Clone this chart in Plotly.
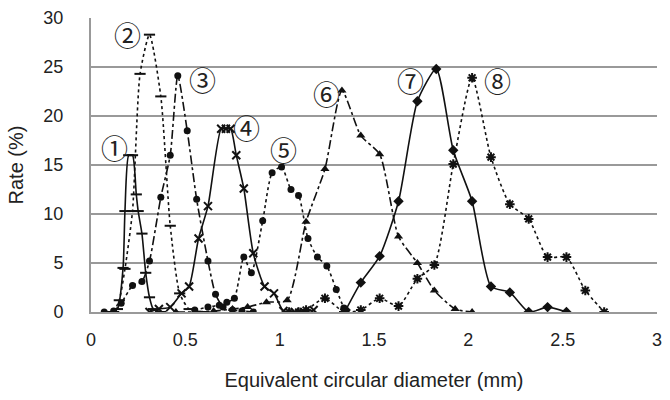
import plotly.graph_objects as go

# Series data (x: equivalent circular diameter in mm, y: rate in %)
s1_x = [0.10, 0.14, 0.17, 0.18, 0.20, 0.22, 0.24, 0.25, 0.27, 0.29, 0.31, 0.33, 0.37]
s1_y = [0, 0.3, 4.5, 10.3, 16.0, 16.0, 12.0, 10.3, 8.0, 4.0, 1.5, 0.3, 0]

s2_x = [0.12, 0.15, 0.18, 0.22, 0.26, 0.31, 0.37, 0.42, 0.47, 0.52, 0.60]
s2_y = [0, 1.2, 4.4, 10.3, 24.3, 28.3, 22.0, 8.8, 1.9, 0.3, 0]

s3_x = [0.07, 0.12, 0.16, 0.22, 0.27, 0.31, 0.37, 0.42, 0.46, 0.51, 0.56, 0.62, 0.66, 0.70, 0.75, 0.80, 0.86]
s3_y = [0, 0.1, 0.9, 2.7, 3.1, 5.2, 11.7, 16.0, 24.1, 18.5, 11.5, 5.2, 1.8, 0.5, 0.2, 0.1, 0]

s4_x = [0.31, 0.36, 0.42, 0.48, 0.52, 0.57, 0.62, 0.69, 0.715, 0.74, 0.77, 0.81, 0.86, 0.92, 0.97, 1.02, 1.08, 1.13, 1.18]
s4_y = [0, 0.3, 0.5, 1.9, 2.6, 7.5, 10.8, 18.7, 18.7, 18.7, 16.0, 12.6, 6.0, 2.6, 1.9, 0.1, 0, 0, 0.2]

s5_x = [0.55, 0.62, 0.68, 0.72, 0.76, 0.81, 0.85, 0.91, 0.96, 1.01, 1.06, 1.10, 1.15, 1.20, 1.25, 1.30, 1.34]
s5_y = [0.2, 0.5, 0.7, 1.0, 1.4, 5.6, 4.0, 9.3, 14.2, 14.8, 12.5, 11.9, 7.5, 5.6, 4.7, 2.3, 0.4]

s6_x = [0.45, 0.55, 0.65, 0.75, 0.83, 0.93, 1.04, 1.14, 1.24, 1.33, 1.43, 1.53, 1.63, 1.73, 1.82, 1.93, 2.02]
s6_y = [0, 0, 0.1, 0.3, 0.5, 1.0, 1.2, 9.2, 14.6, 22.6, 18.0, 16.1, 7.7, 5.0, 2.2, 0.3, 0]

s7_x = [1.35, 1.43, 1.53, 1.63, 1.73, 1.83, 1.92, 2.02, 2.12, 2.22, 2.32, 2.42, 2.52]
s7_y = [0.2, 3.0, 5.7, 11.3, 21.5, 24.8, 16.5, 11.3, 2.6, 2.0, 0, 0.5, 0]

s8_x = [1.05, 1.10, 1.14, 1.24, 1.34, 1.43, 1.53, 1.63, 1.73, 1.82, 1.92, 2.02, 2.12, 2.22, 2.32, 2.42, 2.52, 2.62, 2.72]
s8_y = [0, 0, 0.2, 1.4, 0, 0.2, 1.4, 0.6, 3.4, 4.8, 15.1, 23.9, 15.8, 11.0, 9.5, 5.6, 5.6, 2.2, 0]

labels = ["①", "②", "③", "④", "⑤", "⑥", "⑦", "⑧"]
label_x = [0.126, 0.196, 0.59, 0.826, 1.018, 1.246, 1.692, 2.156]
label_y = [16.8, 28.3, 23.7, 18.8, 16.6, 22.3, 23.6, 23.6]

x_title = "Equivalent circular diameter (mm)"
y_title = "Rate (%)"

series = [
    (s1_x, s1_y, "solid", "line-ew", 8),
    (s2_x, s2_y, "dot", "line-ew", 8),
    (s3_x, s3_y, "dashdot", "circle", 7),
    (s4_x, s4_y, "solid", "x-thin-open", 8),
    (s5_x, s5_y, "dot", "circle", 7),
    (s6_x, s6_y, "dashdot", "triangle-up", 8),
    (s7_x, s7_y, "solid", "diamond", 8),
    (s8_x, s8_y, "dot", "asterisk-open", 8),
]

fig = go.Figure()
for i, (xs, ys, dash, sym, sz) in enumerate(series):
    fig.add_trace(go.Scatter(
        x=xs, y=ys, mode="lines+markers", name=labels[i],
        line=dict(color="#111111", width=1.6, dash=dash, shape="spline", smoothing=0.6),
        marker=dict(symbol=sym, size=sz, color="#111111",
                    line=dict(color="#111111", width=2 if "line" in sym or "open" in sym else 0)),
        showlegend=False,
    ))

for t, lx, ly in zip(labels, label_x, label_y):
    fig.add_annotation(x=lx, y=ly, text=t, showarrow=False,
                       font=dict(size=27, color="#222222", family="Noto Sans CJK JP"))

fig.update_layout(
    width=670, height=400,
    margin=dict(l=91, r=8, t=17, b=88),
    paper_bgcolor="white", plot_bgcolor="white",
    font=dict(family="Liberation Sans, Arial, sans-serif", size=18, color="#222222"),
)
fig.update_xaxes(
    range=[0, 3], tickvals=[0, 0.5, 1, 1.5, 2, 2.5, 3],
    ticktext=["0", "0.5", "1", "1.5", "2", "2.5", "3"],
    showgrid=False, zeroline=False, showline=True, linecolor="#999999", linewidth=2,
    ticks="", ticklabelstandoff=10,
    title=dict(text=x_title, font=dict(size=20), standoff=24),
)
fig.update_yaxes(
    range=[0, 30], tickvals=[0, 5, 10, 15, 20, 25, 30],
    showgrid=True, gridcolor="#999999", gridwidth=1.5, zeroline=False,
    showline=True, linecolor="#999999", linewidth=2, ticks="", ticklabelstandoff=22,
    title=dict(text=y_title, font=dict(size=20), standoff=14),
)

fig.write_html("out.html")
